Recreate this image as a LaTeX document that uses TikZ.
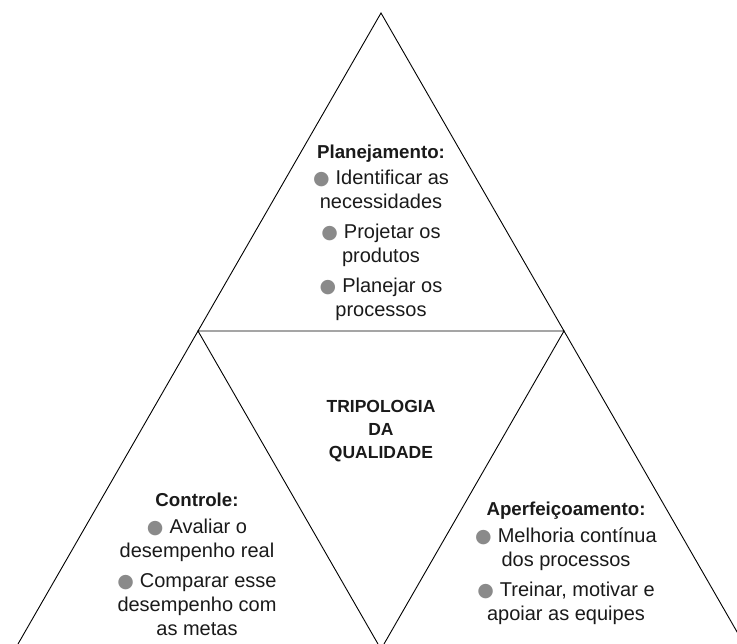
\documentclass[tikz,border=0pt]{standalone}
\usepackage{fontspec}
\setmainfont{Liberation Sans}
\newfontfamily\symfont{DejaVu Sans}
\definecolor{bulgray}{HTML}{8A8A8A}
\definecolor{ink}{HTML}{1A1A1A}
% grey dot in front of each list entry
\newcommand{\bul}{{\symfont\fontsize{19}{24}\selectfont\textcolor{bulgray}{●}}\hspace{6pt}}
% bold heading of a block
\newcommand{\heading}[1]{{\bfseries\fontsize{18.7}{24}\selectfont #1}}
\tikzset{
  edge/.style={draw=black, line width=0.9pt, line join=miter},
  block/.style={align=center, inner sep=0pt, anchor=north, text=ink,
    font=\fontsize{20}{24}\selectfont},
  title/.style={align=center, inner sep=0pt, anchor=north, text=ink,
    font=\bfseries\fontsize{17.5}{23}\selectfont}
}
\begin{document}
\begin{tikzpicture}[x=1pt, y=-1pt]
  \useasboundingbox (0,0) rectangle (737,644);
  \begin{scope}
    \clip (0,0) rectangle (737,644);
    % corner points of the three outer triangles
    \coordinate (apex) at (381,13);
    \coordinate (tl) at (198,331);
    \coordinate (tr) at (564,331);
    \coordinate (ll) at (18,644);
    \coordinate (lr) at (378,644);
    \coordinate (rl) at (384,644);
    \coordinate (rr) at (744,644);
    % upper triangle
    \draw[edge] (tl) -- (apex) -- (tr) -- cycle;
    % lower left triangle
    \draw[edge] (ll) -- (tl) -- (lr);
    % lower right triangle
    \draw[edge] (rl) -- (tr) -- (rr);
  \end{scope}

  \node[block] (plan) at (381,144.5) {\heading{Planejamento:}\\[2pt]
    \bul Identificar as\\ necessidades\\[6pt]
    \bul Projetar os\\ produtos\\[6pt]
    \bul Planejar os\\ processos};

  \node[title] (center) at (381,400.5) {TRIPOLOGIA\\ DA\\ QUALIDADE};

  \node[block] (ctrl) at (197,492.5) {\heading{Controle:}\\[3pt]
    \bul Avaliar o\\ desempenho real\\[6pt]
    \bul Comparar esse\\ desempenho com\\ as metas};

  \node[block] (aperf) at (566,501.5) {\heading{Aperfeiçoamento:}\\[3pt]
    \bul Melhoria contínua\\ dos processos\\[6pt]
    \bul Treinar, motivar e\\ apoiar as equipes};
\end{tikzpicture}
\end{document}
